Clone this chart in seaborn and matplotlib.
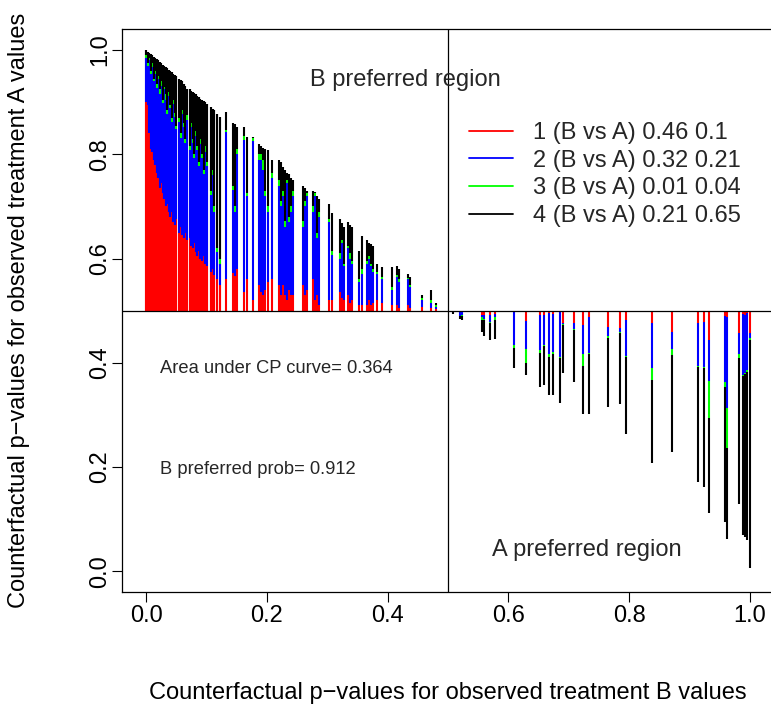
import numpy as np
import pandas as pd
import matplotlib
matplotlib.use("Agg")
import matplotlib.pyplot as plt
import seaborn as sns
from matplotlib.lines import Line2D

# ---------------- data ----------------
# Each segment sits at x and runs from y = 0.5 out to "end";
# colours stack from 0.5 outwards: red -> blue -> green -> black.
# Dense part of the B-preferred region (x < 0.125)
dense_x = [0.0000, 0.0025, 0.0050, 0.0075, 0.0100, 0.0125, 0.0150, 0.0175, 0.0200, 0.0225,
           0.0250, 0.0275, 0.0300, 0.0325, 0.0350, 0.0375, 0.0400, 0.0425, 0.0450, 0.0475,
           0.0500, 0.0550, 0.0575, 0.0600, 0.0625, 0.0650, 0.0675, 0.0725, 0.0750,
           0.0775, 0.0800, 0.0825, 0.0850, 0.0875, 0.0900, 0.0925, 0.0950, 0.0975, 0.1000,
           0.1075, 0.1100, 0.1125, 0.1175, 0.1225]
dense_end = [1.000, 0.997, 0.995, 0.992, 0.990, 0.987, 0.985, 0.982, 0.980, 0.977,
             0.975, 0.972, 0.970, 0.967, 0.965, 0.962, 0.960, 0.957, 0.955, 0.952,
             0.950, 0.944, 0.942, 0.940, 0.935, 0.932, 0.925, 0.925, 0.922,
             0.920, 0.917, 0.915, 0.912, 0.910, 0.907, 0.905, 0.902, 0.900, 0.897,
             0.890, 0.887, 0.885, 0.878, 0.872]
dense_green = [0.990, 0.975, 0.985, 0.960, 0.975, 0.945, 0.960, 0.935, 0.950, 0.925,
               0.940, 0.905, 0.930, 0.915, 0.885, 0.920, 0.895, 0.870, 0.905, 0.880,
               0.855, 0.870, 0.840, 0.885, 0.860, 0.830, 0.875, 0.815, 0.860,
               0.830, 0.800, 0.845, 0.815, 0.785, 0.830, 0.800, 0.770, 0.815, 0.785,
               0.730, 0.770, 0.700, 0.620, 0.600]
dense_blue = [0.985, 0.970, 0.980, 0.955, 0.968, 0.940, 0.955, 0.928, 0.945, 0.915,
              0.932, 0.898, 0.925, 0.905, 0.878, 0.912, 0.888, 0.862, 0.897, 0.872,
              0.848, 0.862, 0.832, 0.878, 0.852, 0.822, 0.865, 0.808, 0.852,
              0.822, 0.792, 0.835, 0.808, 0.778, 0.820, 0.792, 0.762, 0.805, 0.777,
              0.722, 0.760, 0.690, 0.612, 0.590]
dense_red = [0.900, 0.895, 0.840, 0.810, 0.805, 0.790, 0.780, 0.765, 0.755, 0.735,
             0.745, 0.725, 0.715, 0.700, 0.705, 0.690, 0.680, 0.690, 0.670, 0.665,
             0.675, 0.650, 0.660, 0.645, 0.640, 0.650, 0.635, 0.640, 0.625,
             0.620, 0.630, 0.612, 0.605, 0.615, 0.600, 0.595, 0.605, 0.590, 0.585,
             0.575, 0.580, 0.568, 0.560, 0.550]

# Sparse part of the B-preferred region
sparse_x = [0.132, 0.144, 0.147, 0.151, 0.162, 0.167, 0.177, 0.187, 0.190, 0.194,
            0.197, 0.202, 0.209, 0.220, 0.224, 0.227, 0.230, 0.233, 0.237, 0.240,
            0.243, 0.260, 0.263, 0.267, 0.276, 0.280, 0.283, 0.286, 0.303, 0.308,
            0.321, 0.325, 0.328, 0.334, 0.338, 0.341, 0.353, 0.358, 0.366, 0.369,
            0.372, 0.376, 0.382, 0.391, 0.407, 0.416, 0.419, 0.434, 0.437, 0.457,
            0.472, 0.480]
sparse_end = [0.882, 0.861, 0.858, 0.852, 0.852, 0.834, 0.834, 0.820, 0.815, 0.812,
              0.810, 0.809, 0.790, 0.790, 0.785, 0.775, 0.770, 0.765, 0.762, 0.755,
              0.750, 0.740, 0.735, 0.730, 0.730, 0.727, 0.720, 0.715, 0.704, 0.688,
              0.675, 0.668, 0.660, 0.670, 0.665, 0.660, 0.614, 0.644, 0.635, 0.630,
              0.628, 0.625, 0.590, 0.583, 0.583, 0.585, 0.580, 0.570, 0.565, 0.531,
              0.540, 0.515]
sparse_green = [0.846, 0.740, 0.700, 0.810, 0.835, 0.725, 0.831, 0.800, 0.800, 0.790,
                0.730, 0.700, 0.765, 0.750, 0.710, 0.730, 0.672, 0.750, 0.680, 0.700,
                0.730, 0.672, 0.710, 0.725, 0.700, 0.725, 0.650, 0.690, 0.675, 0.615,
                0.610, 0.635, 0.590, 0.625, 0.610, 0.595, 0.560, 0.580, 0.595, 0.605,
                0.590, 0.580, 0.575, 0.565, 0.545, 0.568, 0.560, 0.562, 0.550, 0.524,
                0.520, 0.510]
sparse_blue = [0.842, 0.732, 0.690, 0.800, 0.828, 0.720, 0.825, 0.790, 0.790, 0.770,
               0.720, 0.690, 0.755, 0.740, 0.700, 0.720, 0.660, 0.745, 0.670, 0.690,
               0.720, 0.660, 0.700, 0.720, 0.690, 0.720, 0.640, 0.680, 0.670, 0.606,
               0.600, 0.630, 0.585, 0.620, 0.600, 0.590, 0.555, 0.570, 0.590, 0.600,
               0.585, 0.575, 0.570, 0.560, 0.540, 0.565, 0.555, 0.560, 0.545, 0.520,
               0.515, 0.508]
sparse_red = [0.560, 0.573, 0.567, 0.580, 0.535, 0.560, 0.520, 0.550, 0.535, 0.530,
              0.540, 0.555, 0.560, 0.550, 0.530, 0.550, 0.530, 0.520, 0.540, 0.530,
              0.530, 0.550, 0.530, 0.540, 0.560, 0.520, 0.530, 0.510, 0.520, 0.520,
              0.535, 0.525, 0.520, 0.530, 0.515, 0.520, 0.510, 0.510, 0.510, 0.520,
              0.510, 0.515, 0.520, 0.515, 0.510, 0.510, 0.505, 0.510, 0.505, 0.508,
              0.505, 0.503]

# A-preferred region (segments hang down from 0.5)
right_x = [0.508, 0.520, 0.523, 0.556, 0.560, 0.570, 0.578, 0.609, 0.629, 0.652,
           0.659, 0.667, 0.674, 0.685, 0.690, 0.709, 0.723, 0.733, 0.765, 0.785,
           0.795, 0.838, 0.871, 0.914, 0.924, 0.932, 0.959, 0.962, 0.982, 0.988,
           0.992, 0.995, 1.000]
right_end = [0.493, 0.484, 0.483, 0.460, 0.451, 0.443, 0.446, 0.390, 0.377, 0.354,
             0.358, 0.339, 0.339, 0.323, 0.381, 0.364, 0.302, 0.302, 0.316, 0.321,
             0.264, 0.208, 0.229, 0.172, 0.162, 0.112, 0.095, 0.062, 0.130, 0.070,
             0.066, 0.060, 0.007]
right_green = [0.500, 0.489, 0.490, 0.483, 0.482, 0.477, 0.483, 0.429, 0.400, 0.419,
               0.433, 0.412, 0.417, 0.410, 0.473, 0.463, 0.393, 0.417, 0.448, 0.458,
               0.412, 0.367, 0.415, 0.392, 0.390, 0.295, 0.354, 0.237, 0.410, 0.374,
               0.378, 0.383, 0.444]
right_blue = [0.500, 0.490, 0.491, 0.487, 0.484, 0.479, 0.487, 0.435, 0.427, 0.425,
              0.435, 0.416, 0.421, 0.412, 0.475, 0.465, 0.416, 0.419, 0.452, 0.460,
              0.414, 0.390, 0.427, 0.394, 0.392, 0.365, 0.364, 0.314, 0.416, 0.377,
              0.381, 0.386, 0.448]
right_red = [0.500, 0.499, 0.498, 0.492, 0.492, 0.492, 0.494, 0.500, 0.481, 0.492,
             0.492, 0.496, 0.494, 0.500, 0.477, 0.477, 0.473, 0.487, 0.469, 0.467,
             0.483, 0.477, 0.460, 0.477, 0.479, 0.444, 0.489, 0.487, 0.458, 0.493,
             0.492, 0.496, 0.458]

legend_labels = ["1 (B vs A) 0.46 0.1", "2 (B vs A) 0.32 0.21",
                 "3 (B vs A) 0.01 0.04", "4 (B vs A) 0.21 0.65"]
series_colors = ["#FF0000", "#0000FF", "#00FF00", "#000000"]
x_ticks = [0.0, 0.2, 0.4, 0.6, 0.8, 1.0]
x_tick_labels = ["0.0", "0.2", "0.4", "0.6", "0.8", "1.0"]
y_ticks = [0.0, 0.2, 0.4, 0.6, 0.8, 1.0]
y_tick_labels = ["0.0", "0.2", "0.4", "0.6", "0.8", "1.0"]

# ---------------- build tables ----------------
dense = pd.DataFrame(dict(x=dense_x, end=dense_end, green=dense_green,
                          blue=dense_blue, red=dense_red))
sparse = pd.DataFrame(dict(x=sparse_x, end=sparse_end, green=sparse_green,
                           blue=sparse_blue, red=sparse_red))
right = pd.DataFrame(dict(x=right_x, end=right_end, green=right_green,
                          blue=right_blue, red=right_red))

# ---------------- figure ----------------
sns.set_theme(style="white")
plt.rcParams['font.family'] = ['Liberation Sans', 'DejaVu Sans']
plt.rcParams['axes.unicode_minus'] = True

W, H = 771, 713
fig = plt.figure(figsize=(W / 100, H / 100), dpi=100)
left_px, right_px, top_px, bot_px = 122, 774, 29.2, 592.2
ax = fig.add_axes([left_px / W, (H - bot_px) / H,
                   (right_px - left_px) / W, (bot_px - top_px) / H])

FS = 17.0       # axis text, legend, region labels
FS_NOTE = 13.2  # area / probability notes
LW = 1.5

def draw(df, lw):
    ax.vlines(df["x"], 0.5, df["red"], color=series_colors[0], lw=lw)
    ax.vlines(df["x"], df["red"], df["blue"], color=series_colors[1], lw=lw)
    ax.vlines(df["x"], df["blue"], df["green"], color=series_colors[2], lw=lw)
    ax.vlines(df["x"], df["green"], df["end"], color=series_colors[3], lw=lw)

draw(dense, 1.55)
draw(sparse, LW)
draw(right, LW)

ax.axhline(0.5, color="black", lw=0.9)
ax.axvline(0.5, color="black", lw=0.9)

ax.set_xlim(-0.04, 1.04)
ax.set_ylim(-0.04, 1.04)
ax.set_xticks(x_ticks)
ax.set_xticklabels(x_tick_labels, fontsize=FS)
ax.set_yticks(y_ticks)
ax.set_yticklabels(y_tick_labels, fontsize=FS, rotation=90, va="center")
ax.tick_params(axis="both", direction="out", length=7.5, width=0.8,
               color="black", labelcolor="black", bottom=True, left=True)
ax.tick_params(axis="x", pad=1.5)
ax.tick_params(axis="y", pad=0.2)
for s in ax.spines.values():
    s.set_color("black")
    s.set_linewidth(0.9)

ax.set_xlabel("Counterfactual p\u2212values for observed treatment B values",
              fontsize=FS, labelpad=40, color="black")
ax.set_ylabel("Counterfactual p\u2212values for observed treatment A values",
              fontsize=FS, labelpad=43, color="black")

ax.text(0.43, 0.943, "B preferred region", fontsize=FS, ha="center", va="center")
ax.text(0.023, 0.389, "Area under CP curve= 0.364", fontsize=FS_NOTE, ha="left", va="center")
ax.text(0.023, 0.195, "B preferred prob= 0.912", fontsize=FS_NOTE, ha="left", va="center")
ax.text(0.73, 0.041, "A preferred region", fontsize=FS, ha="center", va="center")

handles = [Line2D([0], [0], color=c, lw=1.3) for c in series_colors]
fig.legend(handles, legend_labels, loc="upper left",
           bbox_to_anchor=(469 / W, 1 - 122 / H), frameon=False,
           fontsize=FS, handlelength=1.85, handletextpad=0.84,
           labelspacing=0.24, borderpad=0, borderaxespad=0)

fig.savefig("out.png", dpi=100)
